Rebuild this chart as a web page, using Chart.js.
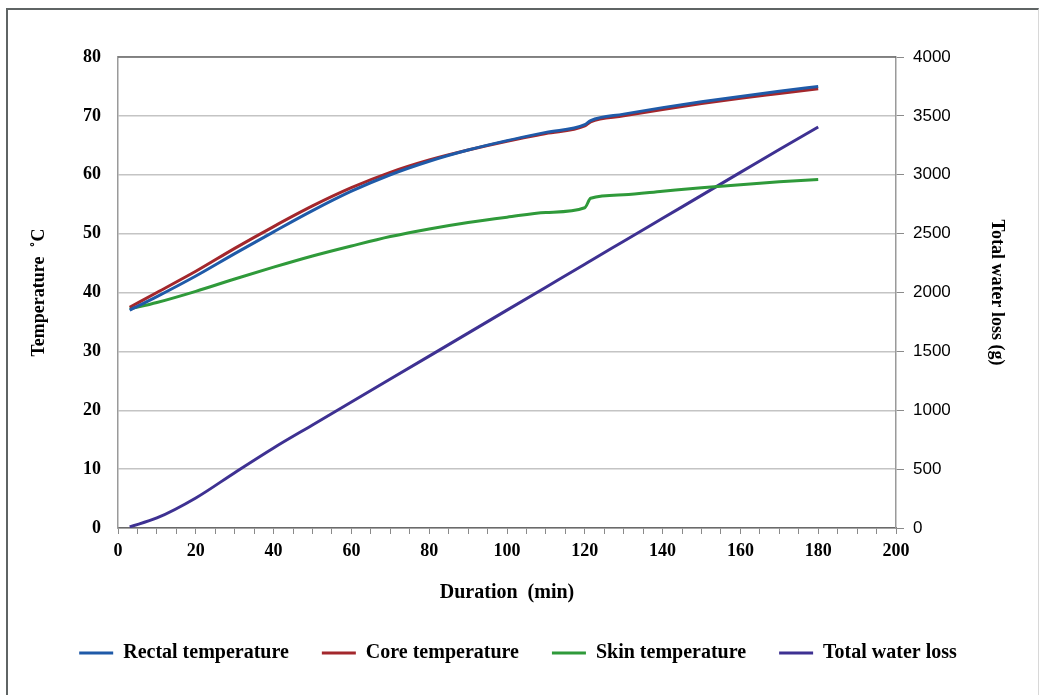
<!DOCTYPE html>
<html>
<head>
<meta charset="utf-8">
<script src="https://cdn.jsdelivr.net/npm/chart.js@4.4.1/dist/chart.umd.min.js"></script>
<style>
  html, body { margin: 0; padding: 0; background: #fff; }
  #wrap { position: relative; width: 1039px; height: 695px; overflow: hidden; }
  #frame { position: absolute; left: 6px; top: 8px; width: 1033px; height: 720px; border: 2px solid #5f6464; border-right: 1px solid #d8d8d8; box-sizing: border-box; }
  canvas { position: absolute; left: 0; top: 0; }
</style>
</head>
<body>
<div id="wrap">
  <div id="frame"></div>
  <canvas id="c" width="1039" height="695"></canvas>
</div>
<script>
const minutes = [3, 10, 20, 30, 40, 50, 60, 70, 80, 90, 100, 110, 120, 121.5, 130, 140, 150, 160, 170, 180];
const rectalTemp = [37.0, 39.3, 42.8, 46.6, 50.3, 53.9, 57.2, 60.0, 62.3, 64.2, 65.8, 67.2, 68.5, 69.2, 70.3, 71.4, 72.4, 73.3, 74.2, 75.0];
const coreTemp = [37.5, 40.0, 43.6, 47.5, 51.2, 54.7, 57.8, 60.4, 62.5, 64.2, 65.7, 67.0, 68.3, 69.0, 70.0, 71.1, 72.1, 73.0, 73.8, 74.6];
const skinTemp = [37.2, 38.3, 40.2, 42.3, 44.3, 46.2, 47.9, 49.5, 50.8, 51.9, 52.8, 53.6, 54.4, 56.0, 56.6, 57.2, 57.8, 58.3, 58.8, 59.2];
const waterLoss = [10, 85, 255, 470, 680, 875, 1070, 1265, 1460, 1655, 1850, 2045, 2240, 2270, 2435, 2630, 2825, 3020, 3215, 3405];
const seriesNames = ['Rectal temperature', 'Core temperature', 'Skin temperature', 'Total water loss'];
const seriesColors = ['#1f5aa8', '#a3272c', '#2f9a3a', '#3e3192'];

const toPts = arr => arr.map((v, i) => ({ x: minutes[i], y: v }));

const serif = "'Liberation Serif', 'Times New Roman', serif";

const topBorder = {
  id: 'topBorder',
  afterDraw(chart) {
    const { ctx, chartArea } = chart;
    ctx.save();
    ctx.strokeStyle = '#6a6a6a';
    ctx.lineWidth = 1.5;
    ctx.beginPath();
    ctx.moveTo(chartArea.left, chartArea.top);
    ctx.lineTo(chartArea.right, chartArea.top);
    ctx.stroke();
    ctx.restore();
  }
};

const mkDs = (i, arr, axis) => ({
  label: seriesNames[i],
  data: toPts(arr),
  borderColor: seriesColors[i],
  backgroundColor: seriesColors[i],
  borderWidth: 3,
  pointRadius: 0,
  cubicInterpolationMode: 'monotone',
  yAxisID: axis,
  fill: false
});

new Chart(document.getElementById('c'), {
  type: 'line',
  data: {
    datasets: [
      mkDs(0, rectalTemp, 'y'),
      mkDs(1, coreTemp, 'y'),
      mkDs(2, skinTemp, 'y'),
      mkDs(3, waterLoss, 'y2')
    ]
  },
  plugins: [topBorder],
  options: {
    responsive: false,
    animation: false,
    layout: { padding: { left: 25, right: 28, top: 57, bottom: 22 } },
    plugins: {
      tooltip: { enabled: false },
      legend: {
        position: 'bottom',
        labels: {
          font: { family: serif, size: 20, weight: 'bold' },
          color: '#000',
          boxWidth: 34,
          boxHeight: 3,
          padding: 33,
          generateLabels(chart) {
            return chart.data.datasets.map((d, i) => ({
              text: d.label,
              fillStyle: d.borderColor,
              strokeStyle: d.borderColor,
              lineWidth: 0,
              hidden: false,
              datasetIndex: i,
              fontColor: '#000'
            }));
          }
        }
      }
    },
    scales: {
      x: {
        type: 'linear',
        min: 0,
        max: 200,
        afterFit(s) { s.height = 82; },
        ticks: {
          stepSize: 5,
          autoSkip: false,
          maxRotation: 0,
          padding: 7,
          color: '#000',
          font: { family: serif, size: 18, weight: 'bold' },
          callback: v => (v % 20 === 0 ? String(v) : '')
        },
        grid: { drawOnChartArea: false, drawTicks: true, tickLength: 6, color: '#8a8a8a' },
        border: { display: true, color: '#6a6a6a', width: 1.5 },
        title: {
          display: true,
          text: 'Duration  (min)',
          color: '#000',
          font: { family: serif, size: 20, weight: 'bold' },
          padding: { top: 4, bottom: 5 }
        }
      },
      y: {
        type: 'linear',
        position: 'left',
        min: 0,
        max: 80,
        afterFit(s) { s.width = 93; },
        ticks: {
          stepSize: 10,
          padding: 17,
          color: '#000',
          font: { family: serif, size: 18, weight: 'bold' }
        },
        grid: { color: '#c4c4c4', lineWidth: 1.5, drawTicks: false },
        border: { display: true, color: '#9a9a9a', width: 1.5 },
        title: {
          display: true,
          text: 'Temperature  ˚C',
          color: '#000',
          font: { family: serif, size: 18, weight: 'bold' },
          padding: { top: 4, bottom: 4 }
        }
      },
      y2: {
        type: 'linear',
        position: 'right',
        min: 0,
        max: 4000,
        afterFit(s) { s.width = 115; },
        ticks: {
          stepSize: 500,
          padding: 9,
          color: '#000',
          font: { family: "'Liberation Sans', Arial, sans-serif", size: 17 },
          callback: v => String(v)
        },
        grid: { drawOnChartArea: false, drawTicks: true, tickLength: 8, color: '#8a8a8a' },
        border: { display: true, color: '#9a9a9a', width: 1.5 },
        title: {
          display: true,
          text: 'Total water loss (g)',
          color: '#000',
          font: { family: serif, size: 18, weight: 'bold' },
          padding: { top: 4, bottom: 4 }
        }
      }
    }
  }
});
</script>
</body>
</html>
